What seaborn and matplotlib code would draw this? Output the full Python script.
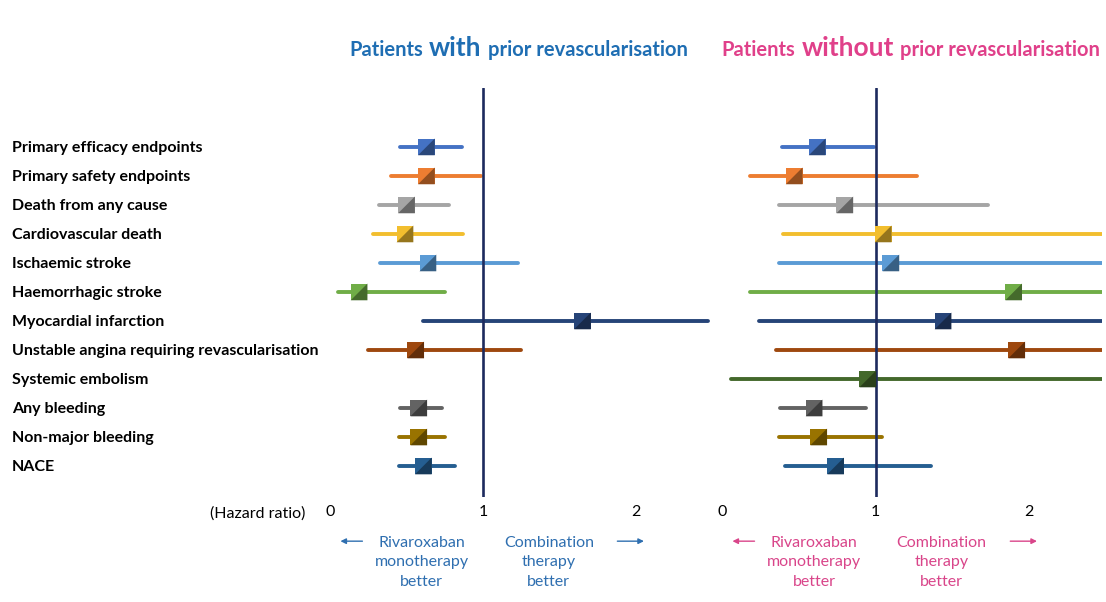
import numpy as np
import pandas as pd
import matplotlib
matplotlib.use("Agg")
import matplotlib.pyplot as plt
import seaborn as sns
from matplotlib.colors import to_rgb
from matplotlib.offsetbox import TextArea, HPacker, AnnotationBbox

# Outcomes (top to bottom)
outcomes = [
    "Primary efficacy endpoints",
    "Primary safety endpoints",
    "Death from any cause",
    "Cardiovascular death",
    "Ischaemic stroke",
    "Haemorrhagic stroke",
    "Myocardial infarction",
    "Unstable angina requiring revascularisation",
    "Systemic embolism",
    "Any bleeding",
    "Non-major bleeding",
    "NACE",
]

# Hazard ratios and 95% CI - patients with prior revascularisation
with_hr = [0.63, 0.63, 0.50, 0.49, 0.64, 0.19, 1.65, 0.56, np.nan, 0.58, 0.58, 0.61]
with_lo = [0.46, 0.40, 0.32, 0.28, 0.33, 0.05, 0.61, 0.25, np.nan, 0.46, 0.45, 0.45]
with_hi = [0.86, 0.99, 0.78, 0.87, 1.23, 0.75, 2.47, 1.25, np.nan, 0.73, 0.75, 0.82]

# Hazard ratios and 95% CI - patients without prior revascularisation
without_hr = [0.62, 0.47, 0.80, 1.05, 1.10, 1.90, 1.44, 1.92, 0.95, 0.60, 0.63, 0.74]
without_lo = [0.39, 0.18, 0.37, 0.40, 0.37, 0.18, 0.24, 0.35, 0.06, 0.38, 0.37, 0.41]
without_hi = [0.99, 1.27, 1.73, 3.20, 3.40, 3.60, 3.60, 3.30, 3.80, 0.94, 1.04, 1.36]

x_ticks = [0, 1, 2]

# Office-like palette, one colour per outcome
colors = ["#4472C4", "#ED7D31", "#A5A5A5", "#F2BE2E", "#5B9BD5", "#70AD47",
          "#264478", "#9E480E", "#43682B", "#636363", "#997300", "#255E91"]

BLUE = "#1F6EB3"
PINK = "#E0408A"

sns.set_theme(style="white")
plt.rcParams["font.family"] = ["Lato", "DejaVu Sans"]

W, H = 1106, 602
fig = plt.figure(figsize=(W / 100, H / 100), dpi=100)
fig.patch.set_facecolor("white")


def px_axes(x0, x1, ytop, ybot):
    return fig.add_axes([x0 / W, 1 - ybot / H, (x1 - x0) / W, (ybot - ytop) / H])


ax_l = px_axes(330, 712.5, 88, 497)
ax_r = px_axes(722, 1102, 88, 497)


def draw_panel(ax, hr, lo, hi, word, color, arrow_color, xmax):
    df = pd.DataFrame({"outcome": outcomes, "row": np.arange(len(outcomes)),
                       "hr": hr, "lo": lo, "hi": hi, "color": colors})
    df = df.dropna()

    ax.hlines(df["row"], df["lo"], df["hi"], colors=df["color"], linewidth=2.8,
              capstyle="round", zorder=2)
    ax.axvline(1, color="#1D2A5E", lw=1.9, zorder=3)

    sns.scatterplot(data=df, x="hr", y="row", hue="outcome",
                    palette=dict(zip(df["outcome"], df["color"])), marker="s",
                    s=145, linewidth=0, legend=False, ax=ax, zorder=4)
    dark = [tuple(np.array(to_rgb(c)) * 0.62) for c in df["color"]]
    ax.scatter(df["hr"], df["row"], marker=[(1, -1), (1, 1), (-1, -1)], s=145,
               c=dark, linewidths=0, zorder=5)

    ax.set_xlim(0, xmax)
    ax.set_ylim(12.07, -2.03)
    ax.set_xticks(x_ticks)
    ax.set_xticklabels([str(t) for t in x_ticks], fontsize=11.5, color="black")
    ax.tick_params(axis="x", length=0, pad=6)
    ax.set_xlabel("")
    ax.set_ylabel("")
    for s in ax.spines.values():
        s.set_visible(False)
    ax.set_facecolor("none")

    # title with emphasised word
    pieces = [TextArea("Patients", textprops=dict(color=color, fontsize=14.5, fontweight="bold")),
              TextArea(word, textprops=dict(color=color, fontsize=19, fontweight="bold")),
              TextArea("prior revascularisation", textprops=dict(color=color, fontsize=14.5, fontweight="bold"))]
    box = HPacker(children=pieces, align="baseline", pad=0, sep=4.5)
    ab = AnnotationBbox(box, (1.23, 1.098), xycoords=("data", "axes fraction"),
                        frameon=False, box_alignment=(0.5, 0.5))
    ax.add_artist(ab)

    # direction annotations
    yb = -0.16
    ya = -0.108
    ax.annotate("Rivaroxaban\nmonotherapy\nbetter", xy=(0.60, yb),
                xycoords=("data", "axes fraction"), ha="center", va="center",
                fontsize=11.5, color=arrow_color, linespacing=1.5, annotation_clip=False)
    ax.annotate("Combination\ntherapy\nbetter", xy=(1.43, yb),
                xycoords=("data", "axes fraction"), ha="center", va="center",
                fontsize=11.5, color=arrow_color, linespacing=1.5, annotation_clip=False)
    ax.annotate("", xy=(0.05, ya), xytext=(0.23, ya),
                xycoords=("data", "axes fraction"), textcoords=("data", "axes fraction"),
                arrowprops=dict(arrowstyle="-|>", color=arrow_color, lw=1, mutation_scale=8),
                annotation_clip=False)
    ax.annotate("", xy=(2.07, ya), xytext=(1.86, ya),
                xycoords=("data", "axes fraction"), textcoords=("data", "axes fraction"),
                arrowprops=dict(arrowstyle="-|>", color=arrow_color, lw=1, mutation_scale=8),
                annotation_clip=False)


draw_panel(ax_l, with_hr, with_lo, with_hi, "with", BLUE, "#2F6FB0", 2.5)
draw_panel(ax_r, without_hr, without_lo, without_hi, "without", PINK, "#D9458A", 380 / 153.5)

# row labels on the left panel only
ax_l.set_yticks(np.arange(len(outcomes)))
ax_l.set_yticklabels(outcomes, ha="left", fontsize=11.5, fontweight="bold", color="black")
ax_l.tick_params(axis="y", length=0, pad=229)
ax_r.set_yticks([])

ax_l.annotate("(Hazard ratio)", xy=(0, 0), xycoords="axes fraction",
              xytext=(-18, -12), textcoords="offset points", ha="right", va="center",
              fontsize=11.5, color="black", annotation_clip=False)

fig.savefig("out.png", dpi=100, facecolor="white")
